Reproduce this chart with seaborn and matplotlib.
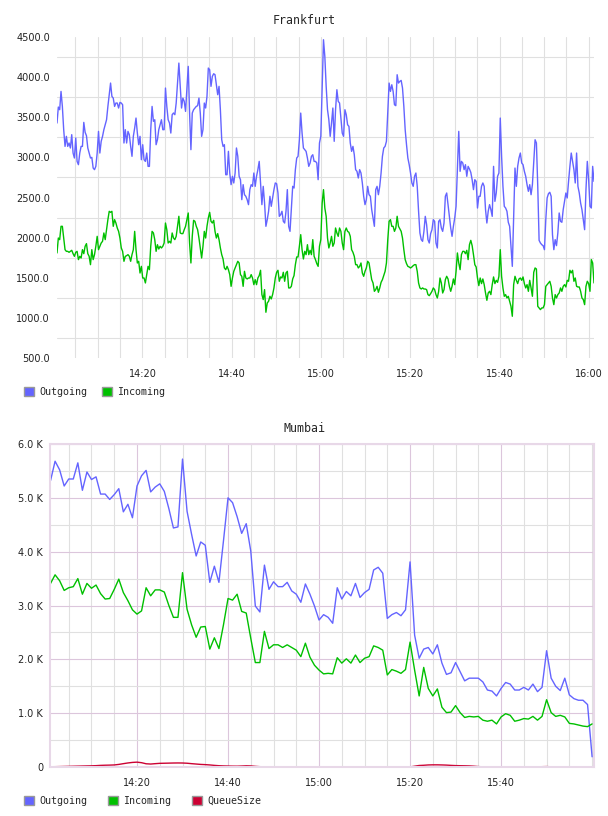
import numpy as np
import pandas as pd
import matplotlib
matplotlib.use("Agg")
import matplotlib.pyplot as plt
import matplotlib.dates as mdates
import matplotlib.ticker as mticker
from matplotlib.patches import Patch
import seaborn as sns

# Frankfurt: samples every 18 s from 14:00:52 (messages / s)
fra_out = [
    3428, 3627, 3594, 3822, 3635, 3345, 3137, 3262, 3137, 3179, 3117, 3283, 3054, 2992, 3241, 2950, 2909, 3054, 3137, 3137,
    3436, 3312, 3270, 3117, 3054, 2992, 3000, 2867, 2847, 2888, 3054, 3324, 3054, 3200, 3262, 3345, 3407, 3469, 3635, 3781,
    3926, 3760, 3739, 3635, 3677, 3677, 3615, 3685, 3677, 3656, 3179, 3345, 3179, 3324, 3283, 3137, 3013, 3262, 3366, 3490,
    3303, 3158, 3262, 2971, 3158, 2971, 2950, 3054, 2888, 2888, 3345, 3635, 3449, 3469, 3158, 3220, 3345, 3407, 3469, 3345,
    3345, 3864, 3635, 3469, 3428, 3303, 3532, 3553, 3532, 3677, 3926, 4175, 3885, 3615, 3739, 3698, 3573, 3864, 4134, 3553,
    3096,
    3552, 3594, 3615, 3635, 3644, 3739, 3552, 3262, 3345, 3677, 3615, 3760, 4113, 4092, 3885, 4009, 4042, 4030, 3905, 3781,
    3885, 3594, 3220, 3137, 3158, 2784, 2784, 3075, 2805, 2660, 2764, 2681, 2805, 3117, 3013, 2764, 2722, 2473, 2660, 2535,
    2515, 2473, 2411, 2598, 2660, 2639, 2805, 2639, 2764, 2847, 2950, 2681, 2411, 2639, 2431, 2141, 2224, 2328, 2515, 2390,
    2494, 2598, 2681, 2672, 2556, 2265, 2286, 2328, 2203, 2182, 2328, 2598, 2141, 2078, 2349, 2639, 2618, 2847, 2992, 3013,
    3220, 3552, 3303, 3117, 3096, 3075, 2992, 2888, 2930, 3013, 3033, 2950, 2950, 2930, 2722, 3179, 3262, 3885, 4466, 4258,
    3885,
    3594, 3469, 3262, 3428, 3615, 3200, 3594, 3843, 3698, 3677, 3490, 3303, 3262, 3594, 3532, 3407, 3386, 3179, 3075, 3137,
    3033, 2847, 2826, 2743, 2847, 2805, 2681, 2515, 2411, 2473, 2639, 2535, 2515, 2349, 2245, 2141, 2598, 2639, 2535, 2639,
    2805, 3013, 3117, 3137, 3200, 3552, 3926, 3822, 3905, 3822, 3656, 3644, 4030, 3926, 3947, 3959, 3864, 3635, 3345, 3158,
    2992, 2909, 2805, 2681, 2639, 2764, 2805, 2639, 2328, 2058, 1975, 1954, 2078, 2265, 2162, 1975, 1933, 2050, 2099, 2224,
    2203, 1933, 1871, 2203, 2224, 2120, 2078, 2182, 2515, 2556, 2411, 2265, 2120, 2016, 2141, 2245, 2390, 2847, 3324, 2826,
    2950,
    2930, 2847, 2909, 2764, 2888, 2855, 2813, 2722, 2598, 2722, 2701, 2369, 2515, 2515, 2639, 2681, 2639, 2349, 2182, 2328,
    2411, 2349, 2265, 2888, 2452, 2556, 2764, 2805, 3490, 3013, 2639, 2390, 2369, 2328, 2191, 2141, 1892, 1642, 2265, 2867,
    2639, 2888, 2992, 3054, 2930, 2909, 2826, 2764, 2660, 2577, 2660, 2535, 2660, 2930, 3220, 3179, 2639, 1966, 1933, 1912,
    1900, 1850, 2224, 2494, 2548, 2565, 2515, 2037, 1850, 1975, 1900, 2058, 2307, 2203, 2191, 2349, 2452, 2556, 2494, 2701,
    2888, 3054, 2950, 2847, 2681, 3054, 2639, 2556, 2431, 2349, 2224, 2099, 2598, 2950, 2722, 2390, 2369, 2888, 2701,
]
fra_in = [
    1809, 1995, 1975, 2141, 2141, 1995, 1850, 1829, 1829, 1817, 1829, 1842, 1800, 1767, 1817, 1829, 1726, 1767, 1746, 1850,
    1800, 1892, 1925, 1800, 1767, 1663, 1850, 1726, 1788, 1892, 2016, 1850, 1892, 1933, 1954, 2058, 1975, 2099, 2224, 2328,
    2315, 2328, 2141, 2224, 2182, 2120, 2078, 1995, 1871, 1829, 1705, 1767, 1775, 1788, 1767, 1705, 1788, 1850, 2078, 1850,
    1684, 1705, 1559, 1642, 1497, 1497, 1435, 1539, 1642, 1601, 1892, 2078, 2058, 1975, 1829, 1912, 1858, 1892, 1871, 1892,
    1933, 2182, 2099, 1933, 1954, 1933, 2058, 1995, 1975, 2016, 2141, 2266, 2058, 2050, 2050, 2099, 2141, 2224, 2307, 1933,
    1684,
    2016, 2216, 2203, 2141, 2099, 1995, 1871, 1746, 1892, 2078, 1995, 2141, 2245, 2315, 2203, 2182, 2216, 2078, 1995, 2050,
    1975, 1871, 1788, 1734, 1622, 1601, 1642, 1601, 1539, 1393, 1497, 1580, 1622, 1663, 1705, 1684, 1539, 1518, 1393, 1580,
    1497, 1485, 1497, 1497, 1539, 1497, 1414, 1476, 1414, 1497, 1527, 1593, 1290, 1228, 1352, 1070, 1186, 1207, 1269, 1236,
    1290, 1373, 1497, 1568, 1593, 1456, 1510, 1497, 1568, 1456, 1560, 1580, 1373, 1373, 1393, 1485, 1527, 1663, 1759, 1759,
    1892, 2037, 1850, 1734, 1829, 1788, 1912, 1788, 1842, 1788, 1975, 1767, 1726, 1676, 1642, 1892, 1975, 2431, 2598, 2369,
    2265,
    1995, 1871, 1933, 2016, 1892, 1933, 2120, 2058, 2016, 2120, 2078, 1933, 1850, 2078, 2120, 2078, 2066, 2016, 1850, 1817,
    1767, 1663, 1663, 1622, 1642, 1684, 1559, 1518, 1580, 1622, 1705, 1684, 1580, 1476, 1435, 1331, 1352, 1393, 1319, 1373,
    1443, 1476, 1527, 1580, 1684, 1975, 2203, 2224, 2141, 2141, 2078, 2120, 2266, 2141, 2108, 2078, 1995, 1850, 1726, 1676,
    1642, 1634, 1622, 1634, 1651, 1663, 1663, 1580, 1435, 1373, 1360, 1373, 1360, 1360, 1352, 1290, 1277, 1302, 1331, 1373,
    1352, 1290, 1248, 1331, 1497, 1435, 1310, 1352, 1476, 1518, 1485, 1393, 1331, 1393, 1485, 1414, 1580, 1809, 1684, 1601,
    1788,
    1829, 1829, 1800, 1842, 1726, 1912, 1966, 1900, 1788, 1663, 1634, 1497, 1402, 1497, 1427, 1485, 1414, 1310, 1219, 1310,
    1331, 1290, 1414, 1510, 1427, 1468, 1443, 1518, 1850, 1518, 1373, 1269, 1290, 1248, 1269, 1207, 1144, 1020, 1414, 1518,
    1468, 1427, 1485, 1497, 1468, 1510, 1427, 1373, 1414, 1331, 1468, 1373, 1269, 1568, 1622, 1609, 1144, 1124, 1103, 1124,
    1124, 1165, 1393, 1414, 1435, 1456, 1393, 1248, 1165, 1290, 1248, 1290, 1310, 1373, 1331, 1393, 1414, 1385, 1468, 1456,
    1593, 1560, 1593, 1456, 1497, 1393, 1385, 1385, 1331, 1248, 1228, 1165, 1393, 1456, 1427, 1331, 1726, 1684, 1435,
]

# Mumbai: one sample per minute from 14:01, in thousands
mum_out_k = [
    5.32, 5.68, 5.52, 5.22, 5.35, 5.35, 5.65, 5.14, 5.48, 5.34, 5.39, 5.07, 5.07, 4.97, 5.06, 5.17, 4.74, 4.88, 4.63, 5.22,
    5.41, 5.51, 5.11, 5.20, 5.26, 5.12, 4.80, 4.44, 4.46, 5.72, 4.75, 4.32, 3.92, 4.18, 4.12, 3.43, 3.73, 3.43, 4.20, 5.00,
    4.91, 4.65, 4.34, 4.52, 4.01, 2.99, 2.88, 3.75, 3.30, 3.44, 3.35, 3.35, 3.43, 3.27, 3.21, 3.06, 3.40, 3.21, 2.99, 2.73,
    2.83, 2.78, 2.67, 3.33, 3.12, 3.26, 3.18, 3.41, 3.15, 3.24, 3.30, 3.66, 3.71, 3.60, 2.76, 2.83, 2.87, 2.81, 2.92, 3.81,
    2.45, 2.02, 2.19, 2.22, 2.10, 2.27, 1.93, 1.72, 1.75, 1.94, 1.77, 1.60, 1.65, 1.65, 1.65, 1.58, 1.43, 1.41, 1.32, 1.46,
    1.57, 1.54, 1.43, 1.43, 1.48, 1.43, 1.54, 1.40, 1.48, 2.16, 1.65, 1.50, 1.42, 1.65, 1.34, 1.27, 1.24, 1.24, 1.16, 0.19,
]
mum_in_k = [
    3.41, 3.57, 3.46, 3.28, 3.33, 3.35, 3.50, 3.21, 3.41, 3.32, 3.38, 3.22, 3.12, 3.13, 3.30, 3.49, 3.24, 3.09, 2.92, 2.84,
    2.90, 3.33, 3.18, 3.29, 3.29, 3.25, 3.00, 2.78, 2.78, 3.61, 2.93, 2.64, 2.41, 2.60, 2.61, 2.19, 2.40, 2.20, 2.64, 3.13,
    3.10, 3.21, 2.89, 2.86, 2.39, 1.94, 1.94, 2.52, 2.20, 2.27, 2.27, 2.22, 2.27, 2.22, 2.17, 2.05, 2.30, 2.04, 1.89, 1.80,
    1.73, 1.74, 1.73, 2.03, 1.93, 2.01, 1.93, 2.08, 1.94, 2.02, 2.05, 2.25, 2.22, 2.17, 1.71, 1.81, 1.78, 1.74, 1.81, 2.32,
    1.80, 1.32, 1.85, 1.46, 1.32, 1.45, 1.11, 1.01, 1.02, 1.14, 1.01, 0.92, 0.94, 0.93, 0.94, 0.87, 0.85, 0.87, 0.80, 0.93,
    0.99, 0.96, 0.85, 0.87, 0.90, 0.89, 0.94, 0.87, 0.94, 1.25, 1.01, 0.94, 0.96, 0.93, 0.81, 0.80, 0.78, 0.76, 0.75, 0.80,
]
mum_queue = [
    5, 6, 8, 10, 12, 14, 16, 18, 20, 22, 25, 30, 33, 35, 38, 48, 62, 75, 85, 90,
    80, 60, 55, 62, 68, 70, 72, 74, 75, 74, 70, 62, 55, 48, 44, 38, 30, 24, 20, 18,
    16, 15, 18, 22, 20, 12, 6, 4, 2, 1, 1, 0, 0, 0, 0, 0, 0, 0, 0, 0,
    0, 0, 0, 0, 0, 0, 0, 0, 0, 0, 0, 0, 0, 0, 0, 0, 0, 0, 0, 2,
    15, 28, 32, 38, 40, 40, 38, 35, 30, 26, 24, 22, 20, 15, 8, 3, 1, 0, 0, 0,
    0, 0, 0, 0, 0, 0, 0, 2, 6, 8, 4, 1, 0, 0, 0, 0, 0, 0, 0, 0,
]

colors = {"Outgoing": "#6464ff", "Incoming": "#00c000", "QueueSize": "#cc0033"}

sns.set_theme(style="white")
plt.rcParams["font.family"] = ["DejaVu Sans"]

fra_time = pd.date_range("2024-01-01 14:00:52", periods=len(fra_out), freq="18s")
mum_time = pd.date_range("2024-01-01 14:01:00", periods=len(mum_out_k), freq="1min")

fra = pd.concat([
    pd.DataFrame({"time": fra_time, "value": fra_out, "series": "Outgoing"}),
    pd.DataFrame({"time": fra_time, "value": fra_in, "series": "Incoming"}),
])
mum = pd.concat([
    pd.DataFrame({"time": mum_time, "value": np.array(mum_out_k) * 1000, "series": "Outgoing"}),
    pd.DataFrame({"time": mum_time, "value": np.array(mum_in_k) * 1000, "series": "Incoming"}),
    pd.DataFrame({"time": mum_time, "value": mum_queue, "series": "QueueSize"}),
])

W, H = 608, 816
fig = plt.figure(figsize=(W / 100, H / 100), dpi=100)
ax1 = fig.add_axes([57 / W, 1 - 358 / H, (594 - 57) / W, (358 - 37) / H])
ax2 = fig.add_axes([50 / W, 1 - 767 / H, (594 - 50) / W, (767 - 444) / H])

sns.lineplot(data=fra, x="time", y="value", hue="series", palette=colors, estimator=None,
             linewidth=1.0, legend=False, ax=ax1)
sns.lineplot(data=mum, x="time", y="value", hue="series", palette=colors, estimator=None,
             linewidth=1.0, legend=False, ax=ax2)

day = "2024-01-01 "
grey = "#e0e0e0"
lav = "#dcc6dc"

# top panel
ax1.set_xlim(fra_time[0], fra_time[-1])
ax1.set_ylim(500, 4500)
ax1.set_xticks(pd.date_range(day + "14:20", day + "16:00", freq="20min"))
ax1.set_xticks(pd.date_range(day + "14:05", day + "16:00", freq="5min"), minor=True)
ax1.xaxis.set_major_formatter(mdates.DateFormatter("%H:%M"))
ax1.set_yticks(np.arange(500, 4501, 500))
ax1.set_yticks(np.arange(750, 4251, 500), minor=True)
ax1.yaxis.set_major_formatter(mticker.FormatStrFormatter("%.1f"))
ax1.grid(False)
ax1.grid(which="both", axis="x", color=grey, lw=0.8)
ax1.grid(which="minor", axis="y", color=grey, lw=0.8)
for s in ax1.spines.values():
    s.set_visible(False)

# bottom panel
ax2.set_xlim(mum_time[0] - pd.Timedelta("7s"), mum_time[-1] + pd.Timedelta("25s"))
ax2.set_ylim(0, 6000)
ax2.set_xticks(pd.date_range(day + "14:20", day + "15:40", freq="20min"))
ax2.set_xticks(pd.date_range(day + "14:05", day + "16:00", freq="5min"), minor=True)
ax2.xaxis.set_major_formatter(mdates.DateFormatter("%H:%M"))
ax2.set_yticks(np.arange(0, 6001, 1000))
ax2.set_yticks(np.arange(500, 5501, 1000), minor=True)
ax2.yaxis.set_major_formatter(mticker.FuncFormatter(lambda v, p: "0" if v == 0 else f"{v / 1000:.1f} K"))
ax2.grid(False)
ax2.grid(which="major", color=lav, lw=0.8)
ax2.grid(which="minor", color=grey, lw=0.8)
for s in ax2.spines.values():
    s.set_color("#e8d8e8")
    s.set_linewidth(1.5)

for ax in (ax1, ax2):
    ax.set_xlabel("")
    ax.set_ylabel("")
    ax.set_axisbelow(True)
    ax.tick_params(which="both", length=0, labelsize=7, colors="#222222")
    ax.tick_params(axis="x", pad=8)
    ax.tick_params(axis="y", pad=5)

mono = {"family": "DejaVu Sans Mono", "size": 7.2}
fig.text(0.5, 1 - 20 / H, "Frankfurt", ha="center", va="center", family="DejaVu Sans Mono", size=8.4)
fig.text(0.5, 1 - 428 / H, "Mumbai", ha="center", va="center", family="DejaVu Sans Mono", size=8.4)


def add_legend(names, y, gap):
    handles = [Patch(facecolor=colors[n], edgecolor="#999999", linewidth=1, label=n) for n in names]
    fig.legend(handles=handles, loc="center left", bbox_to_anchor=(24 / W, 1 - y / H), ncol=len(names),
               frameon=False, prop=mono, handlelength=1.0, handleheight=1.0, handletextpad=0.5,
               columnspacing=gap, borderpad=0, borderaxespad=0)


add_legend(["Outgoing", "Incoming"], 392, 1.5)
add_legend(["Outgoing", "Incoming", "QueueSize"], 801, 2.1)

fig.savefig("out.png", dpi=100)
